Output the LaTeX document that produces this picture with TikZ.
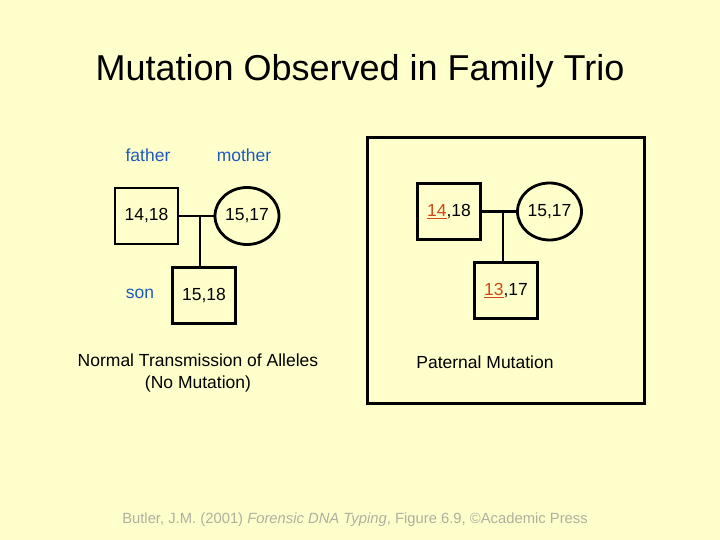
\documentclass[tikz,border=0pt]{standalone}
\usepackage{fontspec}
\setmainfont{Liberation Sans}
\usetikzlibrary{shapes.geometric}
\definecolor{bg}{RGB}{255,255,204}
\definecolor{lbl}{RGB}{30,90,190}
\definecolor{mut}{RGB}{210,70,20}
\definecolor{foot}{RGB}{175,175,160}
\newcommand{\mutnum}[1]{{\color{mut}\underline{#1}}}
\tikzset{
  male/.style={draw, line width=2.8pt, minimum width=63pt, minimum height=56pt, inner sep=0pt, font=\fontsize{17.5}{20}\selectfont},
  female/.style={draw, ellipse, line width=2.8pt, minimum width=64pt, minimum height=57pt, inner sep=0pt, font=\fontsize{17.5}{20}\selectfont},
  link/.style={line width=2.8pt},
  role/.style={text=lbl, font=\fontsize{17.5}{20}\selectfont},
  captext/.style={font=\fontsize{17.5}{22}\selectfont, align=center},
}
\begin{document}
\begin{tikzpicture}[x=1pt,y=-1pt]
\fill[bg] (0,0) rectangle (720,540);
\useasboundingbox (0,0) rectangle (720,540);
\node[font=\fontsize{36}{40}\selectfont] (title) at (360,71) {Mutation Observed in Family Trio};
% left pedigree
\node[role] (lf) at (148,155) {father};
\node[role] (lm) at (244,155) {mother};
\node[role] (ls) at (140,294) {son};
\node[male] (f1) at (146.5,216) {14,18};
\node[female] (m1) at (247,216) {15,17};
\node[male] (s1) at (204,295.5) {15,18};
\coordinate (j1) at (200,216);
\draw[link] (f1.east) -- (m1.west);
\draw[link] (j1) -- (j1 |- s1.north);
\node[captext] (c1) at (198,373) {Normal Transmission of Alleles\\(No Mutation)};
% right pedigree
\draw[line width=3pt] (367,138) rectangle (644,403);
\node[male] (f2) at (449,211.5) {\mutnum{14},18};
\node[female] (m2) at (549.5,211.5) {15,17};
\node[male] (s2) at (506,290.5) {\mutnum{13},17};
\coordinate (j2) at (503,211.5);
\draw[link] (f2.east) -- (m2.west);
\draw[link] (j2) -- (j2 |- s2.north);
\node[captext] (c2) at (485,362) {Paternal Mutation};
% footer
\node[text=foot, font=\fontsize{14.8}{17}\selectfont] (ft) at (355,520) {Butler, J.M. (2001) \textit{Forensic DNA Typing}, Figure 6.9, ©Academic Press};
\end{tikzpicture}
\end{document}
